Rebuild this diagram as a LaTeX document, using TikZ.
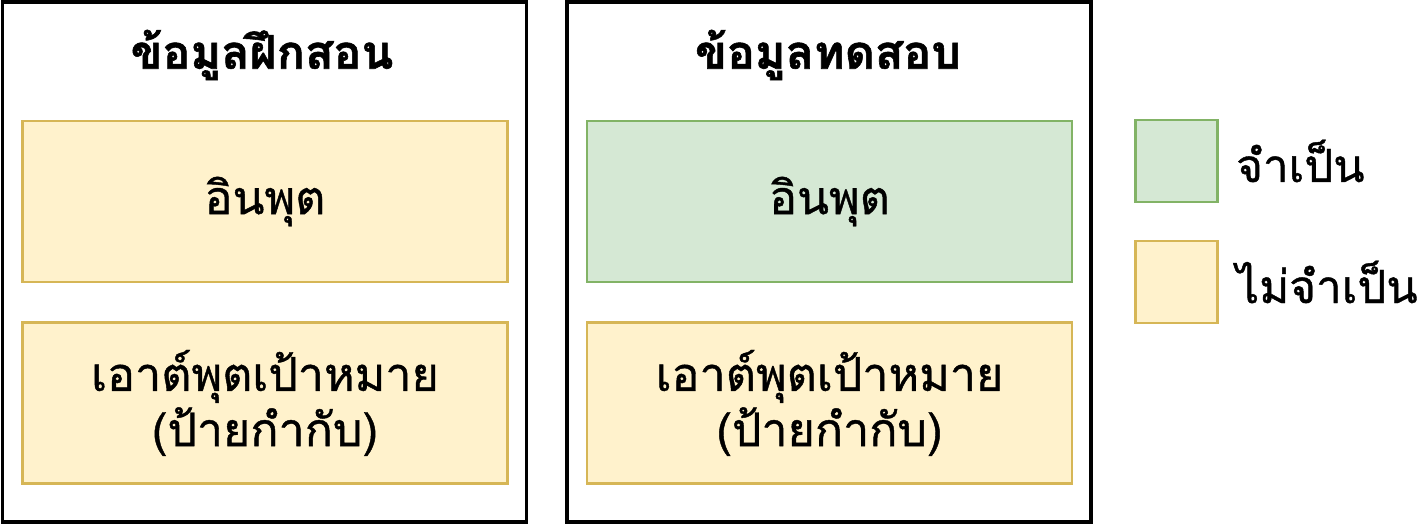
\documentclass[tikz,border=0pt]{standalone}
\usepackage{fontspec}
\newfontfamily\thaifont[Script=Thai]{Loma}
\newfontfamily\thaimedium[Script=Thai, FakeBold=0.9]{Loma}
\newfontfamily\thaiheavy[Script=Thai, FakeBold=1.2]{Loma Bold}
\usepackage{tikz}
\definecolor{optfill}{HTML}{FFF2CC}
\definecolor{optline}{HTML}{D6B656}
\definecolor{reqfill}{HTML}{D5E8D4}
\definecolor{reqline}{HTML}{82B366}
\tikzset{
  panel/.style={draw=black, line width=1.8pt, minimum width=10.48cm, minimum height=10.4cm},
  optbox/.style={draw=optline, fill=optfill, line width=1.5pt, minimum width=9.7cm, minimum height=3.22cm, align=center, font=\thaimedium\fontsize{26.5}{31.5}\selectfont},
  reqbox/.style={optbox, draw=reqline, fill=reqfill},
  keybox/.style={line width=1.5pt, minimum width=1.64cm, minimum height=1.64cm},
  paneltitle/.style={font=\thaiheavy\fontsize{26.5}{32}\selectfont},
  keytext/.style={anchor=west, font=\thaimedium\fontsize{26}{31}\selectfont}
}
\begin{document}
\begin{tikzpicture}
    \useasboundingbox (0,0) rectangle (28.4,10.48);

    % training data
    \node[panel] (train) at (5.29,5.24) {};
    \node[paneltitle] (traintitle) at (5.24,9.38) {ข้อมูลฝึกสอน};
    \node[optbox] (traininput) at (5.30,6.45) {อินพุต};
    \node[optbox] (traintarget) at (5.30,2.42) {เอาต์พุตเป้าหมาย\\(ป้ายกำกับ)};

    % test data
    \node[panel] (test) at (16.58,5.24) {};
    \node[paneltitle] (testtitle) at (16.56,9.38) {ข้อมูลทดสอบ};
    \node[reqbox] (testinput) at (16.59,6.45) {อินพุต};
    \node[optbox] (testtarget) at (16.59,2.42) {เอาต์พุตเป้าหมาย\\(ป้ายกำกับ)};

    % legend
    \node[keybox, draw=reqline, fill=reqfill] (reqkey) at (23.53,7.26) {};
    \node[keytext] (reqtext) at (24.6,7.26) {จำเป็น};
    \node[keybox, draw=optline, fill=optfill] (optkey) at (23.53,4.84) {};
    \node[keytext] (opttext) at (24.6,4.84) {ไม่จำเป็น};
\end{tikzpicture}
\end{document}
